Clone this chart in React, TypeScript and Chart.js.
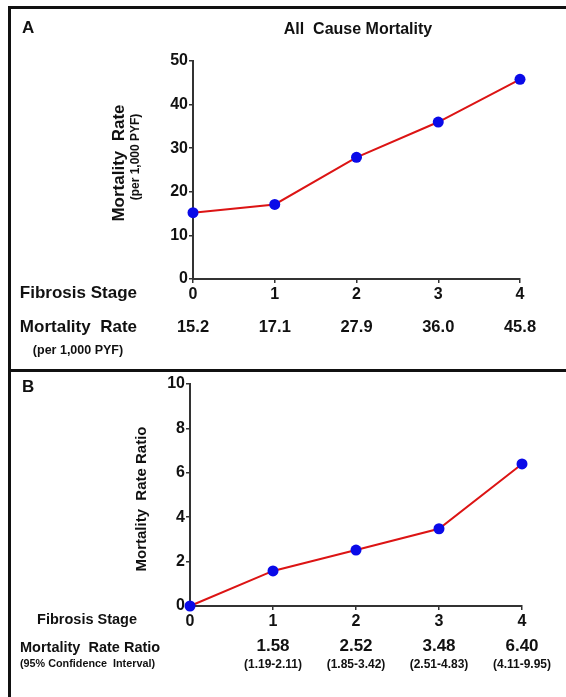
import React, { useEffect, useRef } from 'react';
import { Chart, registerables } from 'chart.js';

Chart.register(...registerables);

// ---- data ----
const stages = [0, 1, 2, 3, 4];
const stageLabels = ['0', '1', '2', '3', '4'];
const mortalityRate = [15.2, 17.1, 27.9, 36.0, 45.8];
const mortalityRateLabels = ['15.2', '17.1', '27.9', '36.0', '45.8'];
const rateRatio = [0, 1.58, 2.52, 3.48, 6.4];
const rateRatioLabels = ['', '1.58', '2.52', '3.48', '6.40'];
const ciLabels = ['', '(1.19-2.11)', '(1.85-3.42)', '(2.51-4.83)', '(4.11-9.95)'];

const FONT = "'Liberation Sans', Arial, Helvetica, sans-serif";
const INK = '#111111';
const AXIS = '#333333';
const LINE = '#dc1414';
const DOT = '#0a0ae8';

function baseOptions(yMax: number, yStep: number, yWidth: number, xHeight: number, padding: any) {
  return {
    responsive: false,
    animation: false as const,
    layout: { padding },
    plugins: { legend: { display: false }, tooltip: { enabled: false }, title: { display: false } },
    scales: {
      x: {
        type: 'linear' as const,
        min: 0,
        max: 4,
        afterFit: (s: any) => { s.height = xHeight; },
        ticks: {
          stepSize: 1,
          color: INK,
          padding: 2,
          font: { family: FONT, size: 16, weight: 'bold' as const },
          callback: (v: any) => stageLabels[stages.indexOf(Number(v))] ?? '',
        },
        grid: { display: true, drawOnChartArea: false, drawTicks: true, tickLength: 4, color: AXIS, lineWidth: 1.5 },
        border: { display: true, color: AXIS, width: 2 },
      },
      y: {
        min: 0,
        max: yMax,
        afterFit: (s: any) => { s.width = yWidth; },
        ticks: {
          stepSize: yStep,
          color: INK,
          padding: 1,
          font: { family: FONT, size: 16, weight: 'bold' as const },
        },
        grid: { display: true, drawOnChartArea: false, drawTicks: true, tickLength: 4, color: AXIS, lineWidth: 1.5 },
        border: { display: true, color: AXIS, width: 2 },
      },
    },
  };
}

function dataset(values: number[]) {
  return {
    data: stages.map((s, i) => ({ x: s, y: values[i] })),
    borderColor: LINE,
    borderWidth: 2,
    pointRadius: 5.5,
    pointBackgroundColor: DOT,
    pointBorderWidth: 0,
    tension: 0,
    clip: false as const,
  };
}

const panelAPlugin = {
  id: 'panelA',
  afterDraw(chart: any) {
    const { ctx, chartArea, scales } = chart;
    const b = chartArea.bottom;
    ctx.save();
    ctx.fillStyle = INK;
    ctx.textBaseline = 'middle';
    // panel letter
    ctx.font = `bold 17px ${FONT}`;
    ctx.textAlign = 'left';
    ctx.fillText('A', 11, 19);
    // title
    ctx.font = `bold 16px ${FONT}`;
    ctx.textAlign = 'center';
    ctx.fillText('All  Cause Mortality', 347, 21);
    // y-axis title
    ctx.save();
    ctx.translate(108, 154);
    ctx.rotate(-Math.PI / 2);
    ctx.font = `bold 17px ${FONT}`;
    ctx.textAlign = 'center';
    ctx.fillText('Mortality  Rate', 0, 0);
    ctx.font = `bold 12px ${FONT}`;
    ctx.fillText('(per 1,000 PYF)', 6, 17);
    ctx.restore();
    // row labels
    ctx.font = `bold 17px ${FONT}`;
    ctx.textAlign = 'right';
    ctx.fillText('Fibrosis Stage', 126, b + 14);
    ctx.fillText('Mortality  Rate', 126, b + 48);
    ctx.font = `bold 12.5px ${FONT}`;
    ctx.textAlign = 'center';
    ctx.fillText('(per 1,000 PYF)', 67, b + 72);
    // values
    ctx.font = `bold 16.5px ${FONT}`;
    stages.forEach((s, i) => {
      ctx.fillText(mortalityRateLabels[i], scales.x.getPixelForValue(s), b + 48);
    });
    ctx.restore();
  },
};

const panelBPlugin = {
  id: 'panelB',
  afterDraw(chart: any) {
    const { ctx, chartArea, scales } = chart;
    const b = chartArea.bottom;
    ctx.save();
    ctx.fillStyle = INK;
    ctx.textBaseline = 'middle';
    ctx.font = `bold 17px ${FONT}`;
    ctx.textAlign = 'left';
    ctx.fillText('B', 11, 15);
    // y-axis title
    ctx.save();
    ctx.translate(131, 127);
    ctx.rotate(-Math.PI / 2);
    ctx.font = `bold 15px ${FONT}`;
    ctx.textAlign = 'center';
    ctx.fillText('Mortality  Rate Ratio', 0, 0);
    ctx.restore();
    // row labels
    ctx.font = `bold 14.5px ${FONT}`;
    ctx.textAlign = 'right';
    ctx.fillText('Fibrosis Stage', 126, b + 14);
    ctx.font = `bold 14.5px ${FONT}`;
    ctx.textAlign = 'left';
    ctx.fillText('Mortality  Rate Ratio', 9, b + 42);
    ctx.font = `bold 10.8px ${FONT}`;
    ctx.fillText('(95% Confidence  Interval)', 9, b + 58);
    // values
    ctx.textAlign = 'center';
    stages.forEach((s, i) => {
      const x = scales.x.getPixelForValue(s);
      ctx.font = `bold 17px ${FONT}`;
      ctx.fillText(rateRatioLabels[i], x, b + 40);
      ctx.font = `bold 12px ${FONT}`;
      ctx.fillText(ciLabels[i], x, b + 59);
    });
    ctx.restore();
  },
};

export default function App() {
  const refA = useRef<HTMLCanvasElement>(null);
  const refB = useRef<HTMLCanvasElement>(null);

  useEffect(() => {
    const a = new Chart(refA.current!, {
      type: 'line',
      data: { datasets: [dataset(mortalityRate)] },
      options: baseOptions(50, 10, 182, 90, { top: 52, right: 46, left: 0, bottom: 0 }) as any,
      plugins: [panelAPlugin],
    });
    const b = new Chart(refB.current!, {
      type: 'line',
      data: { datasets: [dataset(rateRatio)] },
      options: baseOptions(10, 2, 179, 91, { top: 12, right: 44, left: 0, bottom: 0 }) as any,
      plugins: [panelBPlugin],
    });
    return () => {
      a.destroy();
      b.destroy();
    };
  }, []);

  return (
    <div style={{ position: 'absolute', left: 0, top: 0, width: 566, height: 697, background: '#fff', overflow: 'hidden' }}>
      <div style={{ position: 'absolute', left: 8, top: 6, width: 3, height: 691, background: '#111' }} />
      <div style={{ position: 'absolute', left: 8, top: 6, width: 558, height: 3, background: '#111' }} />
      <div style={{ position: 'absolute', left: 8, top: 369, width: 558, height: 3, background: '#111' }} />
      <canvas ref={refA} width={555} height={360} style={{ position: 'absolute', left: 11, top: 9, width: 555, height: 360 }} />
      <canvas ref={refB} width={555} height={325} style={{ position: 'absolute', left: 11, top: 372, width: 555, height: 325 }} />
    </div>
  );
}
